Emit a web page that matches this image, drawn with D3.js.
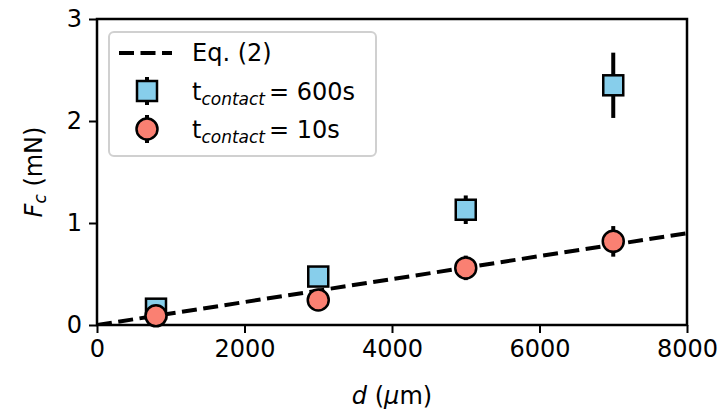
<!DOCTYPE html>
<html>
<head>
<meta charset="utf-8">
<script src="https://cdn.jsdelivr.net/npm/d3@7"></script>
<style>
  body { margin: 0; background: #fff; }
  svg text { font-family: "DejaVu Sans", sans-serif; fill: #000; }
</style>
</head>
<body>
<svg id="chart" width="721" height="411"></svg>
<script>
// distance (um) and contact force (mN) for the two contact times
const distances = [800, 3000, 5000, 7000];
const force600 = [0.16, 0.475, 1.13, 2.35];
const err600 = [0.04, 0.06, 0.14, 0.32];
const force10 = [0.09, 0.245, 0.56, 0.82];
const err10 = [0.03, 0.05, 0.12, 0.15];
// Eq. (2): straight line through the origin
const eqX = [0, 8000];
const eqY = [0, 0.9];
const xTicks = [0, 2000, 4000, 6000, 8000];
const yTicks = [0, 1, 2, 3];

const svg = d3.select("#chart");
const x = d3.scaleLinear().domain([0, 8000]).range([97, 687]);
const y = d3.scaleLinear().domain([0, 3]).range([325, 19]);

const fontSize = 24;
const subSize = 17;

// clip so the dashed line stays inside the axes
svg.append("clipPath").attr("id", "plotClip")
    .append("rect")
    .attr("x", x(0)).attr("y", y(3))
    .attr("width", x(8000) - x(0)).attr("height", y(0) - y(3));

// axes
const xAxis = svg.append("g")
    .attr("transform", "translate(0," + y(0) + ")")
    .call(d3.axisBottom(x).tickValues(xTicks).tickFormat(d3.format("d")).tickSize(8).tickPadding(7));
const yAxis = svg.append("g")
    .attr("transform", "translate(" + x(0) + ",0)")
    .call(d3.axisLeft(y).tickValues(yTicks).tickFormat(d3.format("d")).tickSize(8).tickPadding(7));

[xAxis, yAxis].forEach(a => {
    a.select(".domain").remove();
    a.selectAll(".tick line").attr("stroke", "#000").attr("stroke-width", 2);
    a.selectAll(".tick text").attr("font-size", fontSize).attr("font-family", "DejaVu Sans");
});

// spines
svg.append("rect")
    .attr("x", x(0)).attr("y", y(3))
    .attr("width", x(8000) - x(0)).attr("height", y(0) - y(3))
    .attr("fill", "none").attr("stroke", "#000").attr("stroke-width", 2.5);

const plot = svg.append("g");

function drawSeries(vals, errs, shape, color) {
    let g = plot.append("g");
    g.selectAll("line.err")
        .data(distances)
        .enter()
        .append("line")
        .attr("class", "err")
        .attr("x1", d => x(d)).attr("x2", d => x(d))
        .attr("y1", (d, i) => y(vals[i] - errs[i]))
        .attr("y2", (d, i) => y(vals[i] + errs[i]))
        .attr("stroke", "#000").attr("stroke-width", 4);
    if (shape === "square") {
        g.selectAll("rect.mark")
            .data(distances)
            .enter()
            .append("rect")
            .attr("class", "mark")
            .attr("x", d => x(d) - 10).attr("y", (d, i) => y(vals[i]) - 10)
            .attr("width", 20).attr("height", 20)
            .attr("fill", color).attr("stroke", "#000").attr("stroke-width", 2.5);
    } else {
        g.selectAll("circle.mark")
            .data(distances)
            .enter()
            .append("circle")
            .attr("class", "mark")
            .attr("cx", d => x(d)).attr("cy", (d, i) => y(vals[i]))
            .attr("r", 10.5)
            .attr("fill", color).attr("stroke", "#000").attr("stroke-width", 2.5);
    }
}

drawSeries(force600, err600, "square", "#87ceeb");

plot.append("path")
    .datum(eqX.map((d, i) => [d, eqY[i]]))
    .attr("clip-path", "url(#plotClip)")
    .attr("d", d3.line().x(d => x(d[0])).y(d => y(d[1])))
    .attr("fill", "none").attr("stroke", "#000")
    .attr("stroke-width", 4).attr("stroke-dasharray", "15,6.5");

drawSeries(force10, err10, "circle", "#fa8072");

// axis labels
let xl = svg.append("text")
    .attr("x", 392).attr("y", 404)
    .attr("text-anchor", "middle").attr("font-size", fontSize);
xl.append("tspan").attr("font-style", "italic").text("d");
xl.append("tspan").text(" (");
xl.append("tspan").attr("font-style", "italic").text("\u03bc");
xl.append("tspan").text("m)");

let yl = svg.append("text")
    .attr("transform", "translate(42,172) rotate(-90)")
    .attr("text-anchor", "middle").attr("font-size", fontSize);
yl.append("tspan").attr("font-style", "italic").text("F");
yl.append("tspan").attr("font-style", "italic").attr("font-size", subSize).attr("dy", 4).text("c");
yl.append("tspan").attr("dy", -4).text(" (mN)");

// legend
const legend = svg.append("g");
legend.append("rect")
    .attr("x", 109).attr("y", 32).attr("width", 267).attr("height", 124)
    .attr("rx", 5).attr("fill", "#fff").attr("fill-opacity", 0.8)
    .attr("stroke", "#d0d0d0").attr("stroke-width", 2);

legend.append("line")
    .attr("x1", 119).attr("x2", 172).attr("y1", 53).attr("y2", 53)
    .attr("stroke", "#000").attr("stroke-width", 4).attr("stroke-dasharray", "15,6.5");
legend.append("text").attr("x", 192).attr("y", 61).attr("font-size", fontSize).text("Eq. (2)");

const legendItems = [
    {shape: "square", color: "#87ceeb", time: "600s", cy: 91},
    {shape: "circle", color: "#fa8072", time: "10s", cy: 129}
];
legendItems.forEach(it => {
    legend.append("line")
        .attr("x1", 147).attr("x2", 147).attr("y1", it.cy - 14).attr("y2", it.cy + 14)
        .attr("stroke", "#000").attr("stroke-width", 4);
    if (it.shape === "square") {
        legend.append("rect")
            .attr("x", 137).attr("y", it.cy - 10).attr("width", 20).attr("height", 20)
            .attr("fill", it.color).attr("stroke", "#000").attr("stroke-width", 2.5);
    } else {
        legend.append("circle")
            .attr("cx", 147).attr("cy", it.cy).attr("r", 10.5)
            .attr("fill", it.color).attr("stroke", "#000").attr("stroke-width", 2.5);
    }
    let t = legend.append("text").attr("x", 192).attr("y", it.cy + 9).attr("font-size", fontSize);
    t.append("tspan").text("t");
    t.append("tspan").attr("font-style", "italic").attr("font-size", subSize).attr("dy", 5).text("contact");
    t.append("tspan").attr("dy", -5).attr("dx", 4).text("= " + it.time);
});
</script>
</body>
</html>
